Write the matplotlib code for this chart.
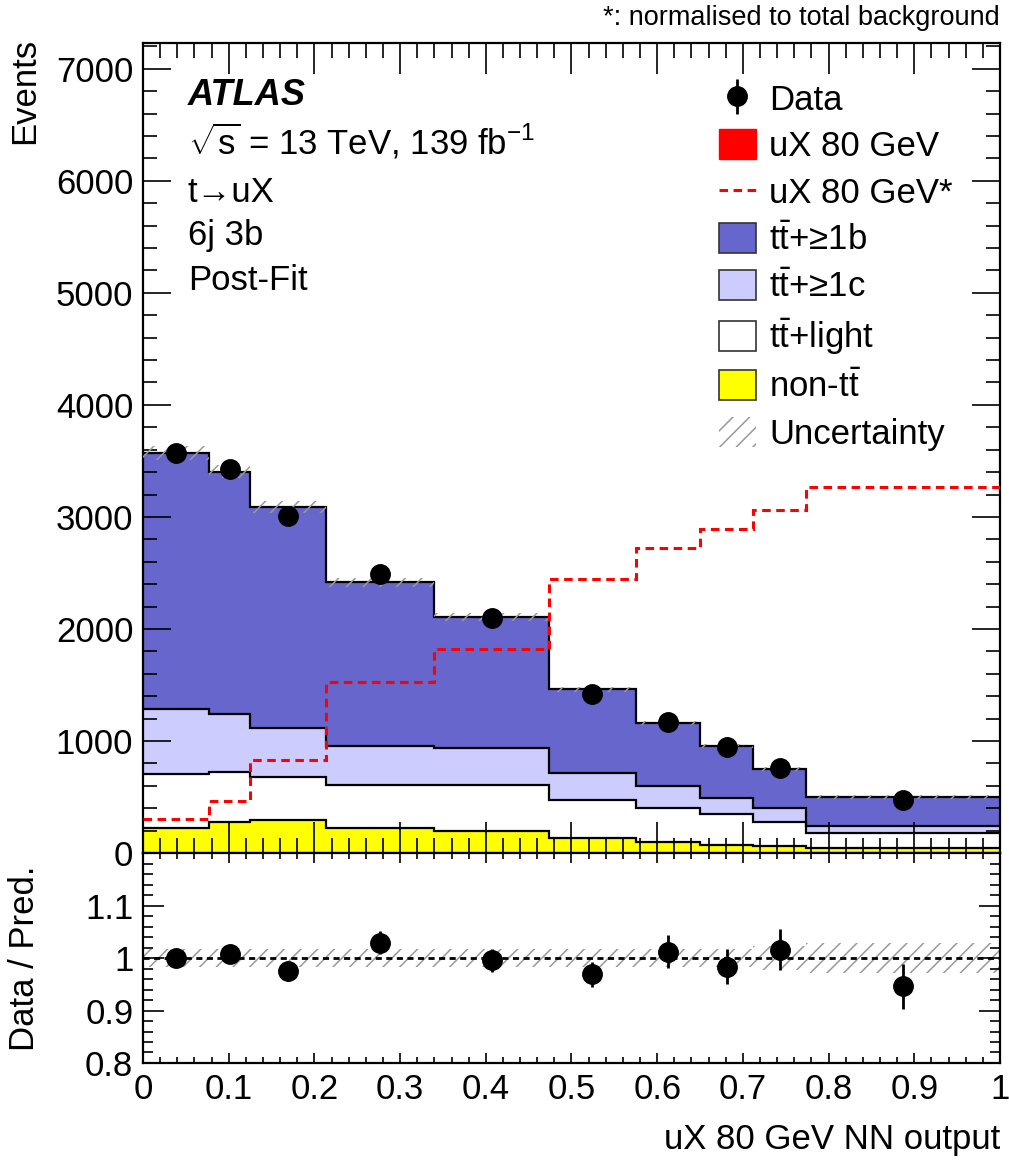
import numpy as np
import matplotlib
matplotlib.use('Agg')
from matplotlib import pyplot as plt
from matplotlib.patches import Patch
from matplotlib.lines import Line2D
from matplotlib.ticker import MultipleLocator, FuncFormatter

plt.rcParams['font.family'] = ['Liberation Sans', 'DejaVu Sans']
plt.rcParams['mathtext.fontset'] = 'custom'
plt.rcParams['mathtext.rm'] = 'Liberation Sans'
plt.rcParams['mathtext.it'] = 'Liberation Sans:italic'
plt.rcParams['mathtext.bf'] = 'Liberation Sans:bold'
plt.rcParams['hatch.linewidth'] = 1.1
plt.rcParams['hatch.color'] = '#999999'

# bin edges of the NN output
edges = [0, 0.077, 0.125, 0.214, 0.34, 0.474, 0.575, 0.65, 0.712, 0.774, 1.0]

# background components (post-fit), bottom to top of the stack
non_tt = [226, 274, 292, 226, 196, 137, 101, 71, 60, 42]
tt_light = [476, 452, 389, 378, 408, 339, 304, 274, 214, 134]
tt_c = [584, 515, 432, 354, 336, 241, 193, 149, 125, 68]
tt_b = [2283, 2161, 1976, 1459, 1170, 744, 560, 464, 351, 256]
signal_postfit = [0, 0, 0, 0, 0, 0, 0, 0, 0, 0]

# signal normalised to total background
signal_norm = [304, 464, 830, 1524, 1821, 2444, 2720, 2895, 3063, 3265]

# data
data = [3567, 3427, 3010, 2487, 2100, 1416, 1172, 942, 762, 473]
ratio_err = [0.016, 0.017, 0.018, 0.022, 0.021, 0.024, 0.031, 0.033, 0.039, 0.043]
# relative uncertainty of the prediction
unc_rel = [0.017, 0.017, 0.017, 0.017, 0.017, 0.017, 0.017, 0.017, 0.022, 0.028]

edges = np.array(edges)
centers = 0.5 * (edges[1:] + edges[:-1])
comps = [non_tt, tt_light, tt_c, tt_b, signal_postfit]
colors = ['#ffff00', '#ffffff', '#ccccff', '#6666cc', '#ff0000']
cum = np.cumsum(np.array(comps, dtype=float), axis=0)
total = cum[-1]
data = np.array(data, dtype=float)
ratio = data / total
ratio_err = np.array(ratio_err)
unc_rel = np.array(unc_rel)

FS = 25

fig = plt.figure(figsize=(10.09, 11.62), dpi=100)
ax = fig.add_axes([0.1417, 0.2659, 0.8494, 0.6971])
rax = fig.add_axes([0.1417, 0.0852, 0.8494, 0.1807], sharex=ax)

# stack
bottom = np.zeros(len(total))
for i in range(len(comps)):
    low = cum[i - 1] if i > 0 else bottom
    ax.stairs(cum[i], edges, baseline=low, fill=True, color=colors[i], lw=0, zorder=1)
    if i < 4:
        ax.stairs(cum[i], edges, baseline=None, color='black', lw=1.6, zorder=2)

# uncertainty band
ax.stairs(total * (1 + unc_rel), edges, baseline=total * (1 - unc_rel), fill=True,
          facecolor='none', edgecolor='#999999', hatch='//', lw=0, zorder=3)

# normalised signal
ax.stairs(signal_norm, edges, baseline=None, color='red', lw=2.2,
          linestyle=(0, (2.8, 1.8)), zorder=4)

# data
dat = ax.errorbar(centers, data, yerr=ratio_err * total, fmt='o', color='black',
                  ms=14, elinewidth=2, capsize=0, zorder=5)

ax.set_xlim(0, 1)
ax.set_ylim(0, 7230)

ax.text(0.0525, (853 - 105) / 810, 'ATLAS', transform=ax.transAxes, fontsize=26,
        fontweight='bold', fontstyle='italic')
ax.text(0.0525, (853 - 155) / 810, r'$\sqrt{\mathrm{s}}$ = 13 TeV, 139 fb$^{-1}$',
        transform=ax.transAxes, fontsize=FS)
ax.text(0.0525, (853 - 202) / 810, 't\u2192uX', transform=ax.transAxes, fontsize=FS)
ax.text(0.0525, (853 - 245) / 810, '6j 3b', transform=ax.transAxes, fontsize=FS)
ax.text(0.0525, (853 - 290) / 810, 'Post-Fit', transform=ax.transAxes, fontsize=FS)

tt = r'$\mathrm{t\bar{t}}$'
handles = [
    dat,
    Patch(facecolor='red', edgecolor='red'),
    Line2D([], [], color='red', lw=2.2, linestyle=(0, (2.8, 1.8))),
    Patch(facecolor='#6666cc', edgecolor='#333333', lw=1.2),
    Patch(facecolor='#ccccff', edgecolor='#333333', lw=1.2),
    Patch(facecolor='white', edgecolor='#333333', lw=1.2),
    Patch(facecolor='#ffff00', edgecolor='#333333', lw=1.2),
    Patch(facecolor='none', edgecolor='#999999', hatch='//', lw=0),
]
labels = ['Data', 'uX 80 GeV', 'uX 80 GeV*', tt + '+\u22651b', tt + '+\u22651c',
          tt + '+light', 'non-' + tt, 'Uncertainty']
ax.legend(handles, labels, loc='upper left', bbox_to_anchor=(0.672, 0.951),
          frameon=False, fontsize=FS, handlelength=1.07, handleheight=0.95,
          handletextpad=0.37, labelspacing=0.37, borderaxespad=0, borderpad=0)

# ratio panel
rax.stairs(1 + unc_rel, edges, baseline=1 - unc_rel, fill=True, facecolor='none',
           edgecolor='#999999', hatch='//', lw=0, zorder=1)
rax.axhline(1, color='black', lw=2, linestyle=(0, (2.2, 1.6)), zorder=2)
rax.errorbar(centers, ratio, yerr=ratio_err, fmt='o', color='black', ms=14,
             elinewidth=2, capsize=0, zorder=3)
rax.set_ylim(0.8, 1.2)
rax.set_yticks([0.8, 0.9, 1.0, 1.1])

fmt = FuncFormatter(lambda v, p: '%g' % v)
for a in (ax, rax):
    for s in a.spines.values():
        s.set_linewidth(1.6)
    a.tick_params(which='both', direction='in', top=True, right=True, labelsize=FS,
                  width=1.2)
    a.xaxis.set_major_locator(MultipleLocator(0.1))
    a.xaxis.set_minor_locator(MultipleLocator(0.02))
ax.yaxis.set_major_locator(MultipleLocator(1000))
ax.yaxis.set_minor_locator(MultipleLocator(200))
ax.tick_params(axis='x', which='major', length=22)
ax.tick_params(axis='x', which='minor', length=11)
ax.tick_params(axis='y', which='major', length=20, pad=7)
ax.tick_params(axis='y', which='minor', length=10)
ax.tick_params(axis='x', labelbottom=False)
rax.yaxis.set_minor_locator(MultipleLocator(0.02))
rax.tick_params(axis='x', which='major', length=7, pad=7)
rax.tick_params(axis='x', which='minor', length=4)
rax.tick_params(axis='y', which='major', length=15, pad=7)
rax.tick_params(axis='y', which='minor', length=7.5)
rax.xaxis.set_major_formatter(fmt)
rax.yaxis.set_major_formatter(fmt)

fig.text(25 / 1009, 1 - 38 / 1162, 'Events', rotation=90, ha='center', va='top', fontsize=FS)
fig.text(25 / 1009, 1 - 958 / 1162, 'Data / Pred.', rotation=90, ha='center', va='center',
         fontsize=FS)
fig.text(1000 / 1009, 1 - 1140 / 1162, 'uX 80 GeV NN output', ha='right', va='center',
         fontsize=FS)
fig.text(1000 / 1009, 1 - 18 / 1162, '*: normalised to total background', ha='right',
         va='center', fontsize=19.5)

fig.savefig('out.png', dpi=100)
